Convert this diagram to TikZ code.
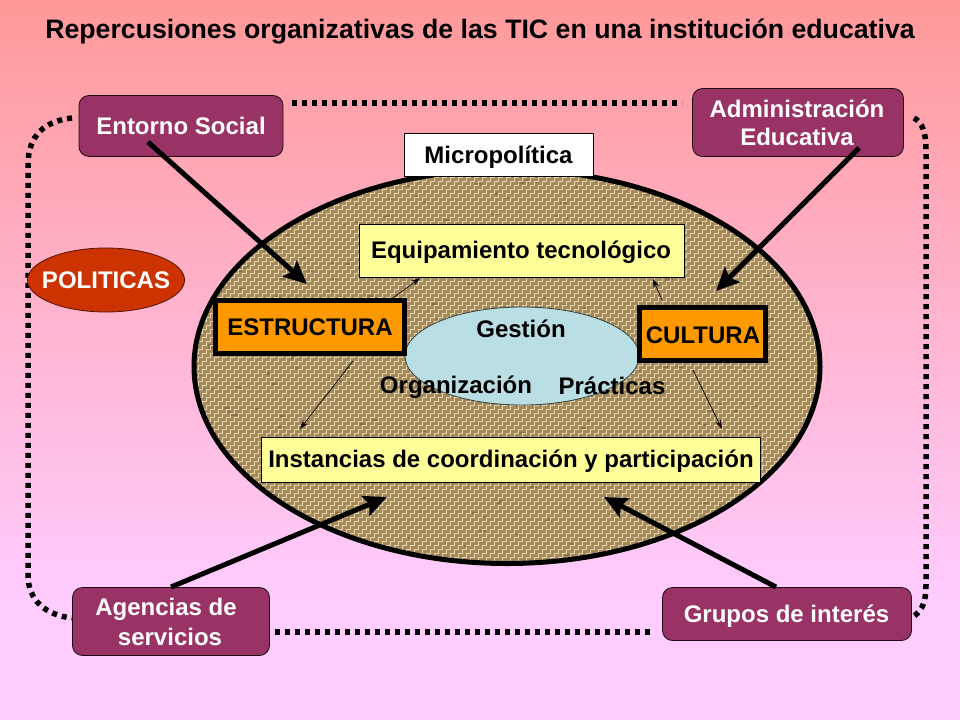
\documentclass[tikz,border=0pt]{standalone}
\usepackage{fontspec}
\setmainfont{Liberation Sans}
\usetikzlibrary{arrows.meta,shapes.geometric}
\definecolor{plum}{HTML}{993366}
\definecolor{polit}{HTML}{CC3300}
\definecolor{orng}{HTML}{FF9900}
\definecolor{pale}{HTML}{FFFF99}
\definecolor{gest}{HTML}{B9DEE3}
\definecolor{sack}{HTML}{A68A5A}
\definecolor{weavelight}{HTML}{E2D3AC}
\definecolor{weavedark}{HTML}{6A5634}
\definecolor{bgtop}{HTML}{FF9999}
\definecolor{bgbot}{HTML}{FFCCFF}
\tikzset{
  x=1pt,y=-1pt,
  every node/.style={font=\bfseries\fontsize{24}{28.5}\selectfont,align=center,inner sep=0pt},
  plumbox/.style={draw=black!80!plum,line width=0.8pt,fill=plum,rounded corners=10pt,text=white},
  palebox/.style={draw=black,line width=0.8pt,fill=pale},
  orangebox/.style={draw=black,line width=4.8pt,fill=orng},
  bigarrow/.style={line width=5pt,-{Stealth[length=23pt,width=21pt,inset=4pt]}},
  thinarrow/.style={line width=0.7pt,-{Stealth[length=9pt,width=6pt]}},
  dotframe/.style={line width=5.5pt,dash pattern=on 5pt off 5pt},
  whitetext/.style={text=white}
}
\begin{document}
\begin{tikzpicture}
\useasboundingbox (0,0) rectangle (960,720);
\shade[top color=bgtop,bottom color=bgbot] (0,0) rectangle (960,600);
\fill[bgbot] (0,600) rectangle (960,720);
% dotted frame
\draw[dotframe] (292,103) -- (682,103);
\draw[dotframe] (275,632) -- (652,632);
\draw[dotframe] (72,118) .. controls (45,121) and (28,135) .. (28,165) -- (28,575) .. controls (28,600) and (45,615) .. (72,618);
\draw[dotframe] (914,118) .. controls (922,122) and (926,132) .. (926,150) -- (926,585) .. controls (926,600) and (923,610) .. (914,616);
% textured ellipse
\node[ellipse,minimum width=630pt,minimum height=397pt,fill=sack] (oval) at (507,366.5) {};
\begin{scope}
\clip (507,366.5) ellipse [x radius=315,y radius=198.5];
\pgfmathsetseed{7}
\foreach \n in {1,...,500}{
  \draw[weavedark,line width=2pt,opacity=.45] ({190+rnd*635},{165+rnd*405}) -- ++({rnd*8},0);
}
\foreach \r in {0,...,102}{
  \draw[weavelight,line width=1pt,dash pattern=on 5pt off 3pt,dash phase=\r*4pt] (190,{165+\r*4}) -- (825,{165+\r*4});
}
\foreach \c in {0,...,160}{
  \draw[weavelight,line width=1pt,dash pattern=on 5pt off 3pt,dash phase=\c*4pt] ({190+\c*4},165) -- ({190+\c*4},570);
}
\end{scope}
\draw[line width=5pt] (507,366.5) ellipse [x radius=313,y radius=197];
% inner nodes
\node[ellipse,minimum width=234pt,minimum height=98pt,fill=gest,draw=black!70!gest,line width=0.8pt] (gestion) at (522,356) {};
\node[palebox,minimum width=325pt,minimum height=53pt] (equip) at (521.5,251) {};
\node (equipt) at (521,252) {Equipamiento tecnológico};
\node[palebox,minimum width=499pt,minimum height=45pt] (inst) at (511,459.5) {};
\node (instt) at (511,461) {Instancias de coordinación y participación};
\node[orangebox,minimum width=189pt,minimum height=53pt] (estr) at (310,327) {};
\node (estrt) at (310,327) {ESTRUCTURA};
\node[orangebox,minimum width=126pt,minimum height=53pt] (cult) at (702.5,334) {};
\node (cultt) at (703,335) {CULTURA};
\node (gtxt) at (521,329) {Gestión};
\node (otxt) at (456,387) {Organización};
\node (ptxt) at (612,385.5) {Prácticas};
\node[draw=black,line width=0.8pt,fill=white,minimum width=189pt,minimum height=43pt] (micro) at (499,155) {};
\node (microt) at (498.5,157) {Micropolítica};
% outer nodes
\node[plumbox,minimum width=204pt,minimum height=61pt] (entorno) at (181,126) {};
\node[whitetext] (entornot) at (181,126) {Entorno Social};
\node[plumbox,minimum width=211pt,minimum height=68pt] (admin) at (798,122.5) {};
\node[whitetext] (admint) at (797,123) {Administración\\Educativa};
\node[plumbox,minimum width=197pt,minimum height=68pt] (agencias) at (171,621.5) {};
\node[whitetext,font=\bfseries\fontsize{24}{30}\selectfont] (agt) at (166,621.5) {Agencias de\\\hspace*{8pt}servicios};
\node[plumbox,minimum width=249pt,minimum height=53pt] (grupos) at (787,614) {};
\node[whitetext] (grupost) at (786.5,616) {Grupos de interés};
\node[ellipse,draw=black!60!polit,line width=0.8pt,fill=polit,minimum width=157pt,minimum height=64pt] (polit) at (106,280) {};
\node[whitetext] (polittxt) at (106,280) {POLITICAS};
% connectors
\coordinate (a1s) at (148,142);
\coordinate (a1e) at (307,284);
\coordinate (a2s) at (859,148);
\coordinate (a2e) at (716,291);
\coordinate (a3s) at (171,587);
\coordinate (a3e) at (387,497);
\coordinate (a4s) at (776,587);
\coordinate (a4e) at (604,497);
\draw[bigarrow] (a1s) -- (a1e);
\draw[bigarrow] (a2s) -- (a2e);
\draw[bigarrow] (a3s) -- (a3e);
\draw[bigarrow] (a4s) -- (a4e);
\coordinate (t1s) at (393,298);
\coordinate (t1e) at (420,278);
\coordinate (t2s) at (353,361);
\coordinate (t2e) at (300,429);
\coordinate (t3s) at (662,300);
\coordinate (t3e) at (653,279);
\coordinate (t4s) at (693,370);
\coordinate (t4e) at (722,429);
\draw[thinarrow] (t1s) -- (t1e);
\draw[thinarrow] (t2s) -- (t2e);
\draw[thinarrow] (t3s) -- (t3e);
\draw[thinarrow] (t4s) -- (t4e);
% title
\node[font=\bfseries\fontsize{26.7}{32}\selectfont] (title) at (480,32) {Repercusiones organizativas de las TIC en una institución educativa};
\end{tikzpicture}
\end{document}
